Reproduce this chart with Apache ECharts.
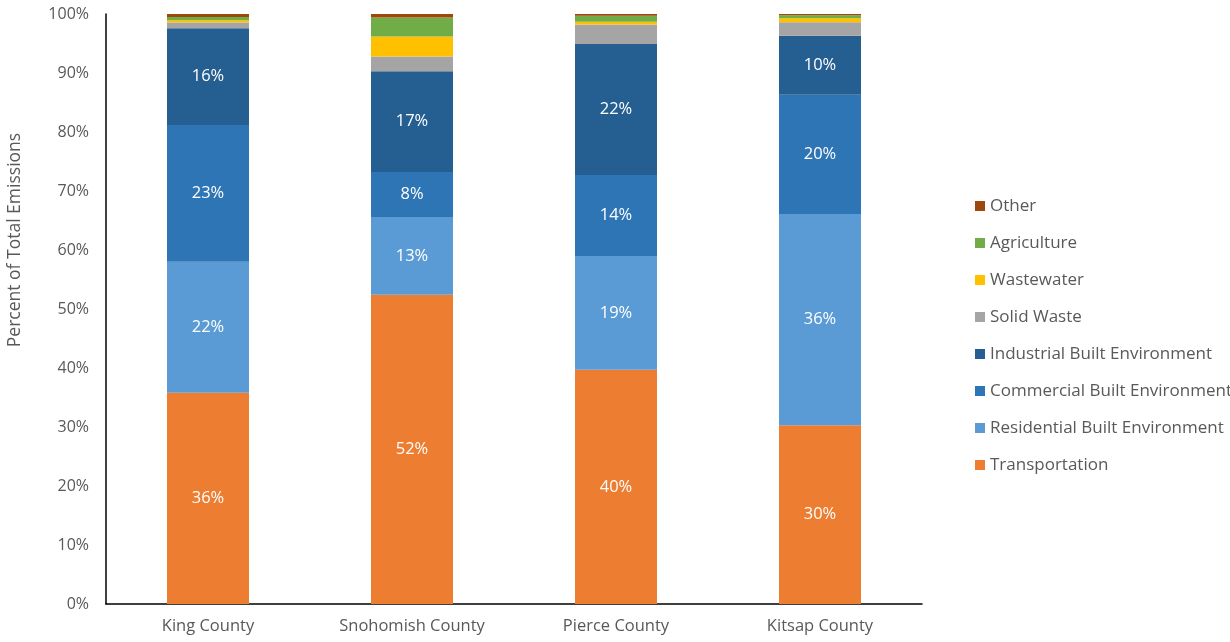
<!DOCTYPE html>
<html>
<head>
<meta charset="utf-8">
<script src="https://cdn.jsdelivr.net/npm/echarts@6/dist/echarts.min.js"></script>
<style>
  html, body { margin: 0; padding: 0; background: #fff; }
  #chart { width: 1230px; height: 642px; }
</style>
</head>
<body>
<div id="chart"></div>
<script>
// Counties on the x axis
const counties = ['King County', 'Snohomish County', 'Pierce County', 'Kitsap County'];

// Share of total emissions (%) per sector, one value per county
const transportation = [35.8, 52.4, 39.7, 30.3];
const residential    = [22.2, 13.2, 19.3, 35.8];
const commercial     = [23.2, 7.6, 13.7, 20.2];
const industrial     = [16.4, 17.1, 22.2, 10.0];
const solidWaste     = [0.95, 2.5, 3.3, 2.3];
const wastewater     = [0.4, 3.4, 0.5, 0.7];
const agriculture    = [0.55, 3.2, 1.0, 0.5];
const other          = [0.5, 0.7, 0.5, 0.45];

// Y axis ticks
const yTicks = { min: 0, max: 100, step: 10 };

const FONT = '"Open Sans", "Noto Sans", sans-serif';
const GREY = '#595959';

function sector(name, data, color, labelled) {
  return {
    name: name,
    type: 'bar',
    stack: 'total',
    data: data,
    barWidth: 82,
    itemStyle: { color: color },
    label: {
      show: labelled,
      position: 'inside',
      color: '#ffffff',
      fontFamily: FONT,
      fontSize: 16.5,
      formatter: p => Math.round(p.value) + '%'
    },
    emphasis: { disabled: true }
  };
}

const chart = echarts.init(document.getElementById('chart'), null, { renderer: 'canvas' });

chart.setOption({
  animation: false,
  backgroundColor: '#ffffff',
  grid: { left: 106, top: 14, width: 816, bottom: 38, containLabel: false },
  xAxis: {
    type: 'category',
    data: counties,
    axisLine: { lineStyle: { color: '#000000', width: 1.5 } },
    axisTick: { show: false },
    axisLabel: { color: GREY, fontFamily: FONT, fontSize: 16.5, margin: 14 }
  },
  yAxis: {
    type: 'value',
    min: yTicks.min,
    max: yTicks.max,
    interval: yTicks.step,
    axisLine: { show: true, lineStyle: { color: '#000000', width: 1.5 } },
    axisTick: { show: false },
    splitLine: { show: false },
    axisLabel: { color: GREY, fontFamily: FONT, fontSize: 16, margin: 17, formatter: '{value}%' }
  },
  legend: {
    orient: 'vertical',
    left: 970,
    top: 190,
    itemWidth: 10,
    itemHeight: 10,
    itemGap: 15,
    icon: 'rect',
    textStyle: { color: GREY, fontFamily: FONT, fontSize: 17, lineHeight: 22 },
    data: ['Other', 'Agriculture', 'Wastewater', 'Solid Waste',
           'Industrial Built Environment', 'Commercial Built Environment',
           'Residential Built Environment', 'Transportation']
  },
  graphic: [{
    type: 'text',
    x: 15,
    y: 240,
    rotation: Math.PI / 2,
    style: {
      text: 'Percent of Total Emissions',
      fill: GREY,
      font: '17.5px "Open Sans", "Noto Sans", sans-serif',
      textAlign: 'center',
      textVerticalAlign: 'middle'
    }
  }],
  series: [
    sector('Transportation', transportation, '#ED7D31', true),
    sector('Residential Built Environment', residential, '#5B9BD5', true),
    sector('Commercial Built Environment', commercial, '#2E75B6', true),
    sector('Industrial Built Environment', industrial, '#255E91', true),
    sector('Solid Waste', solidWaste, '#A5A5A5', false),
    sector('Wastewater', wastewater, '#FFC000', false),
    sector('Agriculture', agriculture, '#70AD47', false),
    sector('Other', other, '#9E480E', false)
  ]
});
</script>
</body>
</html>
